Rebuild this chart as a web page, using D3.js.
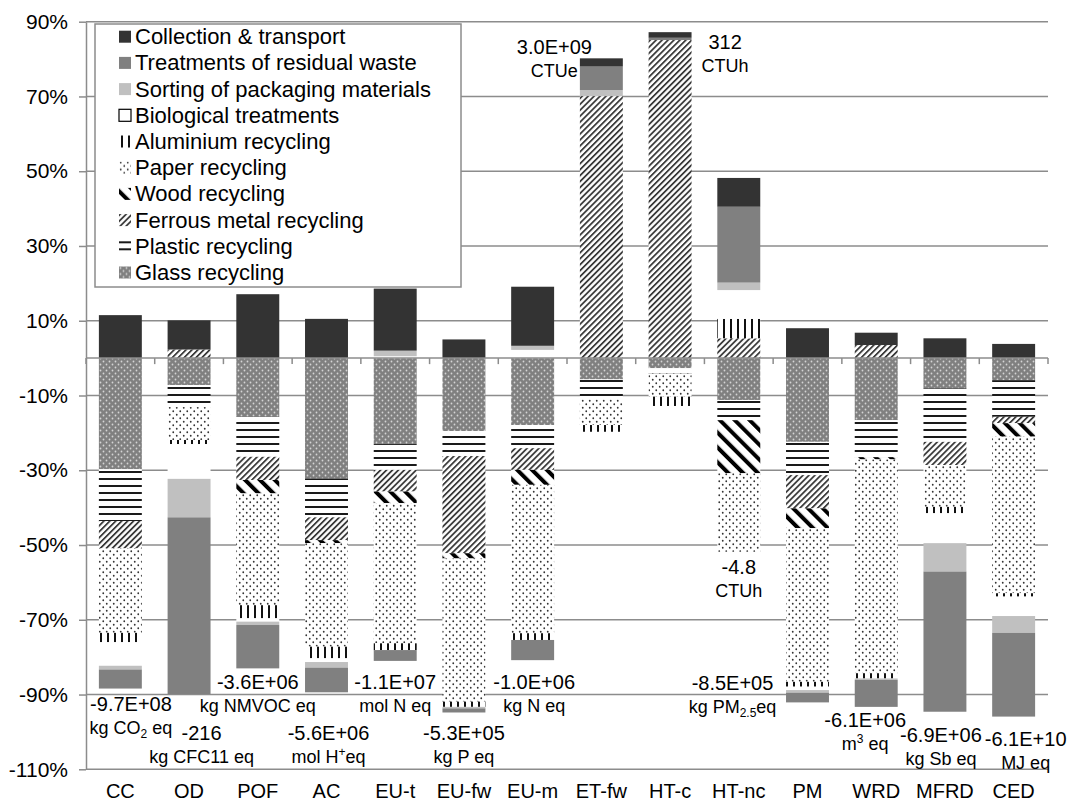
<!DOCTYPE html>
<html>
<head>
<meta charset="utf-8">
<script src="https://cdn.jsdelivr.net/npm/d3@7"></script>
<style>
  body { margin: 0; background: #fff; }
  svg text { font-family: "Liberation Sans", Arial, sans-serif; fill: #000; }
</style>
</head>
<body>
<svg id="chart" width="1068" height="805"></svg>
<script>
// categories and series (percent of total impact)
const categories = ["CC","OD","POF","AC","EU-t","EU-fw","EU-m","ET-fw","HT-c","HT-nc","PM","WRD","MFRD","CED"];

const glass      = [-29.7, -7.2, -15.7, -32.2, -23.0, -19.5, -17.9, -5.7, -2.7, -11.2, -22.4, -16.6, -8.1, -5.9];
const plastic    = [-13.9, -5.9, -10.7, -10.4, -6.9, -6.7, -6.2, -5.3, -1.4, -5.4, -8.9, -9.9, -14.3, -9.8];
const ferrous    = [-7.3, 2.3, -6.2, -6.1, -5.8, -26.0, -5.8, 70.1, 85.1, 5.3, -8.9, 3.5, -6.2, -1.7];
const wood       = [0, 0, -3.6, -0.8, -3.1, -1.4, -4.0, 0, 0, -14.2, -5.3, -0.6, 0, -3.6];
const paper      = [-22.6, -8.8, -29.9, -27.7, -37.5, -38.3, -39.7, -6.9, -6.2, -21.0, -41.1, -57.2, -11.2, -41.9];
const aluminium  = [-2.5, -1.1, -3.5, -3.1, -1.8, -1.4, -1.8, -1.8, -2.5, 5.2, -1.3, -1.4, -1.7, -0.9];
const biological = [-6.3, -9.3, -0.9, -1.0, 0.5, 0, 2.2, 0, 0, 7.7, -0.9, 0, -8.0, -5.2];
const sorting    = [-1.0, -10.3, -0.9, -1.5, 1.5, -0.4, 1.1, 1.6, 0, 2.0, -0.7, -0.4, -7.6, -4.5];
const treatments = [-5.1, -47.3, -11.6, -6.6, -2.9, -1.1, -5.4, 6.3, 0.6, 20.3, -2.6, -7.2, -37.5, -22.4];
const collection = [11.5, 7.8, 17.1, 10.5, 16.6, 5.0, 15.8, 2.2, 1.5, 7.7, 8.0, 3.3, 5.3, 3.8];

const yTicks = [90, 70, 50, 30, 10, -10, -30, -50, -70, -90, -110];

// absolute totals written next to the bars
const totalValues = ["-9.7E+08","-216","-3.6E+06","-5.6E+06","-1.1E+07","-5.3E+05","-1.0E+06","3.0E+09","312","-4.8","-8.5E+05","-6.1E+06","-6.9E+06","-6.1E+10"];
const totalUnits = [
  [["kg CO"],["2","sub"],[" eq"]],
  [["kg CFC11 eq"]],
  [["kg NMVOC eq"]],
  [["mol H"],["+","sup"],["eq"]],
  [["mol N eq"]],
  [["kg P eq"]],
  [["kg N eq"]],
  [["CTUe"]],
  [["CTUh"]],
  [["CTUh"]],
  [["kg PM"],["2.5","sub"],["eq"]],
  [["m"],["3","sup"],[" eq"]],
  [["kg Sb eq"]],
  [["MJ eq"]]
];
// where each total label sits: [x shift from bar centre (px), y in axis units]
const totalLabelPos = [[10.6,-92.5],[12.5,-100.3],[0,-86.7],[2,-100.3],[0,-86.7],[0,-100.3],[1.5,-86.7],
                       [-47,83.3],[55,84.6],[0,-55.9],[-75,-86.9],[-11,-96.8],[-4,-100.8],[12,-101.9]];

const series = [
  {key: "glass",      name: "Glass recycling",                values: glass,      fill: "url(#pGlass)"},
  {key: "plastic",    name: "Plastic recycling",              values: plastic,    fill: "url(#pPlastic)"},
  {key: "ferrous",    name: "Ferrous metal recycling",        values: ferrous,    fill: "url(#pFerrous)"},
  {key: "wood",       name: "Wood recycling",                 values: wood,       fill: "url(#pWood)"},
  {key: "paper",      name: "Paper recycling",                values: paper,      fill: "url(#pPaper)"},
  {key: "aluminium",  name: "Aluminium recycling",            values: aluminium,  fill: "url(#pAlu)"},
  {key: "biological", name: "Biological treatments",          values: biological, fill: "#ffffff"},
  {key: "sorting",    name: "Sorting of packaging materials", values: sorting,    fill: "#c0c0c0"},
  {key: "treatments", name: "Treatments of residual waste",   values: treatments, fill: "#808080"},
  {key: "collection", name: "Collection & transport",         values: collection, fill: "#333333"}
];

const table = categories.map((c, i) => {
  const row = {cat: c};
  series.forEach(s => { row[s.key] = s.values[i]; });
  return row;
});

const svg = d3.select("#chart");
const gridColor = "#8c8c8c";

// patterns
const defs = svg.append("defs");
const pg = defs.append("pattern").attr("id", "pGlass").attr("patternUnits", "userSpaceOnUse")
  .attr("width", 6).attr("height", 6);
pg.append("rect").attr("width", 6).attr("height", 6).attr("fill", "#808080");
pg.append("circle").attr("cx", 1.5).attr("cy", 1.5).attr("r", 0.9).attr("fill", "#d4d4d4");
pg.append("circle").attr("cx", 4.5).attr("cy", 4.5).attr("r", 0.9).attr("fill", "#d4d4d4");

const pp = defs.append("pattern").attr("id", "pPlastic").attr("patternUnits", "userSpaceOnUse")
  .attr("width", 8).attr("height", 7);
pp.append("rect").attr("width", 8).attr("height", 7).attr("fill", "#fff");
pp.append("rect").attr("y", 2).attr("width", 8).attr("height", 2).attr("fill", "#1a1a1a");

const pf = defs.append("pattern").attr("id", "pFerrous").attr("patternUnits", "userSpaceOnUse")
  .attr("width", 4.2).attr("height", 10).attr("patternTransform", "rotate(45)");
pf.append("rect").attr("width", 4.2).attr("height", 10).attr("fill", "#fff");
pf.append("rect").attr("width", 1.8).attr("height", 10).attr("fill", "#3a3a3a");

const pw = defs.append("pattern").attr("id", "pWood").attr("patternUnits", "userSpaceOnUse")
  .attr("width", 10.5).attr("height", 10).attr("patternTransform", "rotate(-45)");
pw.append("rect").attr("width", 10.5).attr("height", 10).attr("fill", "#fff");
pw.append("rect").attr("width", 4).attr("height", 10).attr("fill", "#000");

const ppa = defs.append("pattern").attr("id", "pPaper").attr("patternUnits", "userSpaceOnUse")
  .attr("width", 7).attr("height", 7);
ppa.append("rect").attr("width", 7).attr("height", 7).attr("fill", "#fff");
ppa.append("circle").attr("cx", 1.75).attr("cy", 1.75).attr("r", 0.9).attr("fill", "#333");
ppa.append("circle").attr("cx", 5.25).attr("cy", 5.25).attr("r", 0.9).attr("fill", "#333");

const pa = defs.append("pattern").attr("id", "pAlu").attr("patternUnits", "userSpaceOnUse")
  .attr("width", 7).attr("height", 10);
pa.append("rect").attr("width", 7).attr("height", 10).attr("fill", "#fff");
pa.append("rect").attr("x", 2).attr("width", 2).attr("height", 10).attr("fill", "#111");

// scales
const x = d3.scaleBand().domain(categories).range([86, 1048]).paddingInner(0.375).paddingOuter(0.1875);
const y = d3.scaleLinear().domain([-110, 90]).range([769.3, 21.7]);

// gridlines
svg.append("g").selectAll("line").data(yTicks).join("line")
  .attr("x1", 86).attr("x2", 1048)
  .attr("y1", d => y(d)).attr("y2", d => y(d))
  .attr("stroke", gridColor).attr("stroke-width", 1.5);

// stacked bars
const stack = d3.stack().keys(series.map(s => s.key)).offset(d3.stackOffsetDiverging);
const layers = stack(table);

svg.append("g").selectAll("g").data(layers).join("g")
  .attr("fill", (d, i) => series[i].fill)
  .selectAll("rect").data(d => d).join("rect")
  .attr("x", d => x(d.data.cat))
  .attr("width", x.bandwidth())
  .attr("y", d => y(Math.max(d[0], d[1])))
  .attr("height", d => Math.abs(y(d[0]) - y(d[1])));

// zero axis with ticks between categories
svg.append("line").attr("x1", 86).attr("x2", 1048).attr("y1", y(0)).attr("y2", y(0))
  .attr("stroke", gridColor).attr("stroke-width", 1.5);
svg.append("g").selectAll("line").data(d3.range(categories.length + 1)).join("line")
  .attr("x1", i => x.range()[0] + i * x.step()).attr("x2", i => x.range()[0] + i * x.step())
  .attr("y1", y(0)).attr("y2", y(0) + 6)
  .attr("stroke", gridColor).attr("stroke-width", 1.5);

// left axis
const yAxis = svg.append("g").attr("transform", "translate(86,0)")
  .call(d3.axisLeft(y).tickValues(yTicks).tickFormat(d => d + "%").tickSize(7).tickSizeOuter(0).tickPadding(11));
yAxis.selectAll("line, path").attr("stroke", gridColor).attr("stroke-width", 1.5);
yAxis.selectAll("text").attr("font-size", 21).attr("fill", "#000")
  .attr("font-family", "'Liberation Sans', Arial, sans-serif");

// category labels
svg.append("g").selectAll("text").data(categories).join("text")
  .attr("x", d => x(d) + x.bandwidth() / 2).attr("y", 791)
  .attr("text-anchor", "middle").attr("dominant-baseline", "central")
  .attr("font-size", 20).text(d => d);

// total labels
const lab = svg.append("g").selectAll("g").data(categories).join("g")
  .attr("transform", (d, i) => `translate(${x(d) + x.bandwidth() / 2 + totalLabelPos[i][0]},${y(totalLabelPos[i][1])})`);
lab.append("text").attr("text-anchor", "middle").attr("dominant-baseline", "central")
  .attr("font-size", 20).text((d, i) => totalValues[i]);
lab.append("text").attr("text-anchor", "middle").attr("y", 30)
  .attr("font-size", 18)
  .each(function(d, i) {
    const t = d3.select(this);
    totalUnits[i].forEach(part => {
      const ts = t.append("tspan").text(part[0]);
      if (part[1] === "sub") ts.attr("font-size", 12).attr("dy", 4);
      if (part[1] === "sup") ts.attr("font-size", 12).attr("dy", -7);
      if (part[1]) {
        // next part back on the baseline
        ts.attr("data-shift", part[1]);
      }
    });
    // restore baseline after sub/sup
    t.selectAll("tspan").each(function(_, k, nodes) {
      if (k > 0) {
        const prev = d3.select(nodes[k - 1]).attr("data-shift");
        if (prev === "sub") d3.select(this).attr("dy", -4);
        if (prev === "sup") d3.select(this).attr("dy", 7);
      }
    });
  });

// legend
const legend = svg.append("g");
legend.append("rect").attr("x", 95).attr("y", 24).attr("width", 366).attr("height", 263)
  .attr("fill", "#fff").attr("stroke", gridColor).attr("stroke-width", 1.5);
const legendItems = series.slice().reverse();
const li = legend.selectAll("g.item").data(legendItems).join("g").attr("class", "item")
  .attr("transform", (d, i) => `translate(119,${36.7 + i * 26.2})`);
li.append("rect").attr("x", 0).attr("y", -6).attr("width", 12).attr("height", 12)
  .attr("fill", d => d.fill)
  .attr("stroke", d => d.key === "biological" ? "#000" : "none").attr("stroke-width", 1.2);
li.append("text").attr("x", 16).attr("dominant-baseline", "central")
  .attr("font-size", 22).text(d => d.name);
</script>
</body>
</html>
